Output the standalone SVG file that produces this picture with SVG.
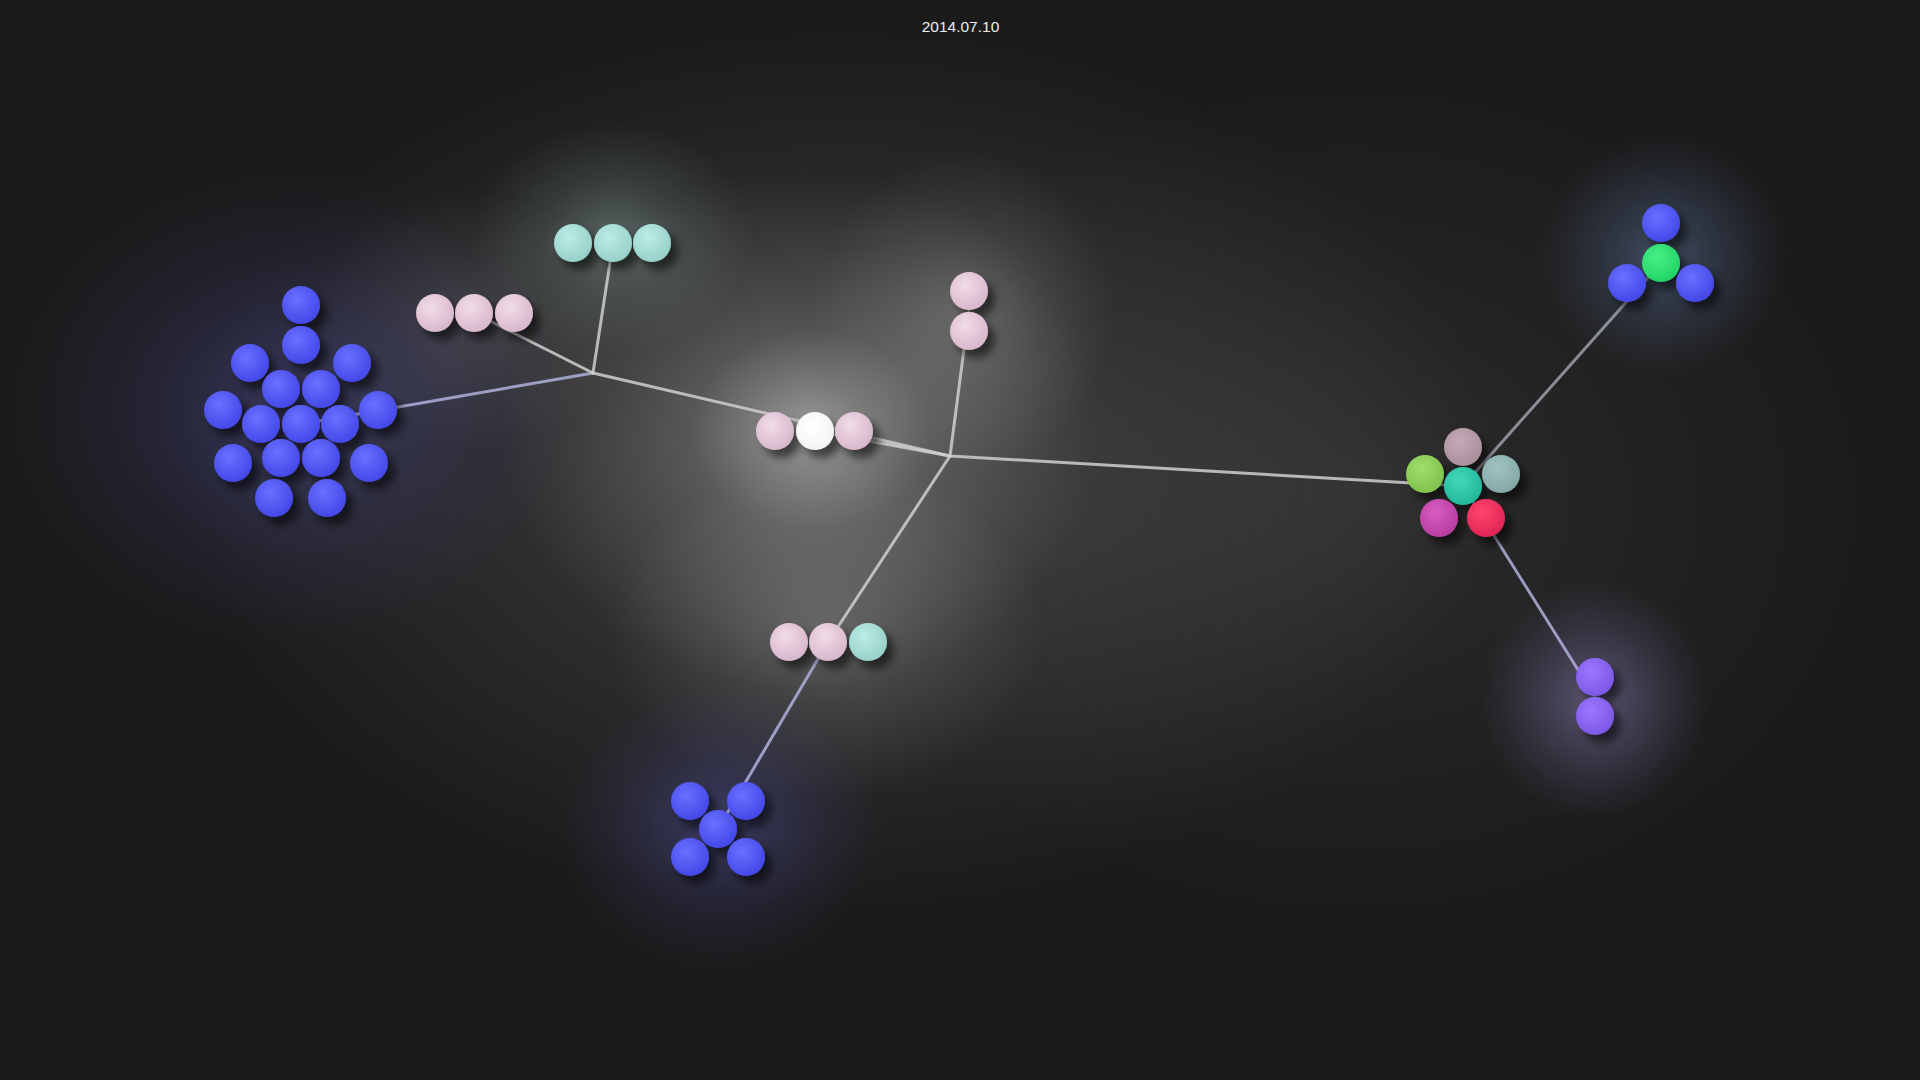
<svg xmlns="http://www.w3.org/2000/svg" width="1920" height="1080" viewBox="0 0 1920 1080">
<style>
.edge{fill:none;stroke-width:3;stroke-linecap:round}
.e-grey{stroke:#cfcfcf;stroke-opacity:0.85}
.e-lav{stroke:#aeb0dc;stroke-opacity:0.85}
.e-dim{stroke:#a4a8b4;stroke-opacity:0.8}
.ball{filter:url(#shadow)}
.date{font-family:"Liberation Sans",Arial,sans-serif;font-size:15.5px;fill:#ececec;text-anchor:middle}
</style>
<defs>
<filter id="shadow" x="-50%" y="-50%" width="220%" height="220%">
<feDropShadow dx="7" dy="8" stdDeviation="4" flood-color="#000" flood-opacity="0.55"/>
</filter>
<radialGradient id="gw" cx="50%" cy="50%" r="50%"><stop offset="0" stop-color="#fff" stop-opacity="1"/><stop offset="0.5" stop-color="#fff" stop-opacity="0.45"/><stop offset="1" stop-color="#fff" stop-opacity="0"/></radialGradient>
<radialGradient id="gblue" cx="50%" cy="50%" r="50%"><stop offset="0" stop-color="#5a5ab8" stop-opacity="1"/><stop offset="0.5" stop-color="#4a4a98" stop-opacity="0.5"/><stop offset="1" stop-color="#3a3a80" stop-opacity="0"/></radialGradient>
<radialGradient id="gteal" cx="50%" cy="50%" r="50%"><stop offset="0" stop-color="#c8f0e8" stop-opacity="1"/><stop offset="0.5" stop-color="#b0d8d0" stop-opacity="0.45"/><stop offset="1" stop-color="#a0c8c0" stop-opacity="0"/></radialGradient>
<radialGradient id="gsky" cx="50%" cy="50%" r="50%"><stop offset="0" stop-color="#7090c0" stop-opacity="1"/><stop offset="0.55" stop-color="#5870a0" stop-opacity="0.5"/><stop offset="1" stop-color="#506090" stop-opacity="0"/></radialGradient>
<radialGradient id="gpur" cx="50%" cy="50%" r="50%"><stop offset="0" stop-color="#a898d8" stop-opacity="1"/><stop offset="0.55" stop-color="#8878b8" stop-opacity="0.5"/><stop offset="1" stop-color="#7060a0" stop-opacity="0"/></radialGradient>
<radialGradient id="b-blue" cx="40%" cy="35%" r="65%"><stop offset="0" stop-color="#6a70ff"/><stop offset="1" stop-color="#4448e8"/></radialGradient>
<radialGradient id="b-pink" cx="40%" cy="35%" r="65%"><stop offset="0" stop-color="#f2dce8"/><stop offset="1" stop-color="#d8b8cc"/></radialGradient>
<radialGradient id="b-teal" cx="40%" cy="35%" r="65%"><stop offset="0" stop-color="#bcece6"/><stop offset="1" stop-color="#98d0ca"/></radialGradient>
<radialGradient id="b-white" cx="40%" cy="35%" r="65%"><stop offset="0" stop-color="#ffffff"/><stop offset="1" stop-color="#f4f4f4"/></radialGradient>
<radialGradient id="b-mauve" cx="40%" cy="35%" r="65%"><stop offset="0" stop-color="#c6a8b6"/><stop offset="1" stop-color="#a8909c"/></radialGradient>
<radialGradient id="b-lime" cx="40%" cy="35%" r="65%"><stop offset="0" stop-color="#a0de6a"/><stop offset="1" stop-color="#80c24e"/></radialGradient>
<radialGradient id="b-cyan" cx="40%" cy="35%" r="65%"><stop offset="0" stop-color="#44d8b8"/><stop offset="1" stop-color="#22b89c"/></radialGradient>
<radialGradient id="b-grteal" cx="40%" cy="35%" r="65%"><stop offset="0" stop-color="#a0c4c2"/><stop offset="1" stop-color="#84a8a6"/></radialGradient>
<radialGradient id="b-mag" cx="40%" cy="35%" r="65%"><stop offset="0" stop-color="#d85cc0"/><stop offset="1" stop-color="#b83ea2"/></radialGradient>
<radialGradient id="b-red" cx="40%" cy="35%" r="65%"><stop offset="0" stop-color="#ff4470"/><stop offset="1" stop-color="#e02654"/></radialGradient>
<radialGradient id="b-green" cx="40%" cy="35%" r="65%"><stop offset="0" stop-color="#48f088"/><stop offset="1" stop-color="#22d466"/></radialGradient>
<radialGradient id="b-purple" cx="40%" cy="35%" r="65%"><stop offset="0" stop-color="#9c78ff"/><stop offset="1" stop-color="#7c58e6"/></radialGradient>
</defs>

<rect width="1920" height="1080" fill="#1b1b1b"/>

<g id="glows">
<ellipse cx="840" cy="470" rx="660" ry="440" fill="url(#gw)" opacity="0.18"/>
<ellipse cx="1350" cy="500" rx="520" ry="420" fill="url(#gw)" opacity="0.08"/>
<ellipse cx="800" cy="430" rx="300" ry="260" fill="url(#gw)" opacity="0.26"/>
<ellipse cx="812" cy="430" rx="120" ry="100" fill="url(#gw)" opacity="0.28"/>
<ellipse cx="965" cy="310" rx="150" ry="160" fill="url(#gw)" opacity="0.2"/>
<ellipse cx="825" cy="630" rx="220" ry="170" fill="url(#gw)" opacity="0.2"/>
<ellipse cx="613" cy="238" rx="140" ry="115" fill="url(#gteal)" opacity="0.3"/>
<ellipse cx="470" cy="320" rx="160" ry="130" fill="url(#gw)" opacity="0.12"/>
<ellipse cx="300" cy="410" rx="290" ry="240" fill="url(#gblue)" opacity="0.42"/>
<ellipse cx="720" cy="825" rx="165" ry="145" fill="url(#gblue)" opacity="0.45"/>
<ellipse cx="1663" cy="255" rx="125" ry="120" fill="url(#gsky)" opacity="0.42"/>
<ellipse cx="1595" cy="700" rx="115" ry="120" fill="url(#gpur)" opacity="0.45"/>
</g>

<g id="connectors">
<line class="edge e-lav" x1="593" y1="373" x2="301" y2="424"/>
<line class="edge e-grey" x1="593" y1="373" x2="474" y2="313"/>
<line class="edge e-grey" x1="593" y1="373" x2="613" y2="243"/>
<line class="edge e-grey" x1="593" y1="373" x2="950" y2="456"/>
<line class="edge e-grey" x1="815" y1="431" x2="950" y2="456"/>
<line class="edge e-grey" x1="950" y1="456" x2="969" y2="311"/>
<line class="edge e-grey" x1="950" y1="456" x2="1463" y2="486"/>
<line class="edge e-grey" x1="950" y1="456" x2="828" y2="642"/>
<line class="edge e-lav" x1="828" y1="642" x2="718" y2="829"/>
<line class="edge e-dim" x1="1463" y1="486" x2="1661" y2="263"/>
<line class="edge e-lav" x1="1463" y1="486" x2="1595" y2="697"/>
</g>

<g id="node-blue-cluster" class="ball" fill="url(#b-blue)">
<circle cx="301" cy="305" r="19"/>
<circle cx="301" cy="345" r="19"/>
<circle cx="250" cy="363" r="19"/>
<circle cx="352" cy="363" r="19"/>
<circle cx="281" cy="389" r="19"/>
<circle cx="321" cy="389" r="19"/>
<circle cx="223" cy="410" r="19"/>
<circle cx="378" cy="410" r="19"/>
<circle cx="261" cy="424" r="19"/>
<circle cx="301" cy="424" r="19"/>
<circle cx="340" cy="424" r="19"/>
<circle cx="233" cy="463" r="19"/>
<circle cx="281" cy="458" r="19"/>
<circle cx="321" cy="458" r="19"/>
<circle cx="369" cy="463" r="19"/>
<circle cx="274" cy="498" r="19"/>
<circle cx="327" cy="498" r="19"/>
</g>

<g id="node-pink-trio" class="ball" fill="url(#b-pink)">
<circle cx="435" cy="313" r="19"/>
<circle cx="474" cy="313" r="19"/>
<circle cx="514" cy="313" r="19"/>
</g>

<g id="node-teal-trio" class="ball" fill="url(#b-teal)">
<circle cx="573" cy="243" r="19"/>
<circle cx="613" cy="243" r="19"/>
<circle cx="652" cy="243" r="19"/>
</g>

<g id="node-center" class="ball">
<circle cx="775" cy="431" r="19" fill="url(#b-pink)"/>
<circle cx="815" cy="431" r="19" fill="url(#b-white)"/>
<circle cx="854" cy="431" r="19" fill="url(#b-pink)"/>
</g>

<g id="node-top-pair" class="ball" fill="url(#b-pink)">
<circle cx="969" cy="291" r="19"/>
<circle cx="969" cy="331" r="19"/>
</g>

<g id="node-bottom-trio" class="ball">
<circle cx="789" cy="642" r="19" fill="url(#b-pink)"/>
<circle cx="828" cy="642" r="19" fill="url(#b-pink)"/>
<circle cx="868" cy="642" r="19" fill="url(#b-teal)"/>
</g>

<g id="node-blue-x" class="ball" fill="url(#b-blue)">
<circle cx="690" cy="801" r="19"/>
<circle cx="746" cy="801" r="19"/>
<circle cx="718" cy="829" r="19"/>
<circle cx="690" cy="857" r="19"/>
<circle cx="746" cy="857" r="19"/>
</g>

<g id="node-multicolor" class="ball">
<circle cx="1463" cy="447" r="19" fill="url(#b-mauve)"/>
<circle cx="1425" cy="474" r="19" fill="url(#b-lime)"/>
<circle cx="1501" cy="474" r="19" fill="url(#b-grteal)"/>
<circle cx="1463" cy="486" r="19" fill="url(#b-cyan)"/>
<circle cx="1439" cy="518" r="19" fill="url(#b-mag)"/>
<circle cx="1486" cy="518" r="19" fill="url(#b-red)"/>
</g>

<g id="node-top-right" class="ball">
<circle cx="1661" cy="223" r="19" fill="url(#b-blue)"/>
<circle cx="1627" cy="283" r="19" fill="url(#b-blue)"/>
<circle cx="1695" cy="283" r="19" fill="url(#b-blue)"/>
<circle cx="1661" cy="263" r="19" fill="url(#b-green)"/>
</g>

<g id="node-purple-pair" class="ball" fill="url(#b-purple)">
<circle cx="1595" cy="677" r="19"/>
<circle cx="1595" cy="716" r="19"/>
</g>

<text class="date" x="960.5" y="31.5">2014.07.10</text>
</svg>
